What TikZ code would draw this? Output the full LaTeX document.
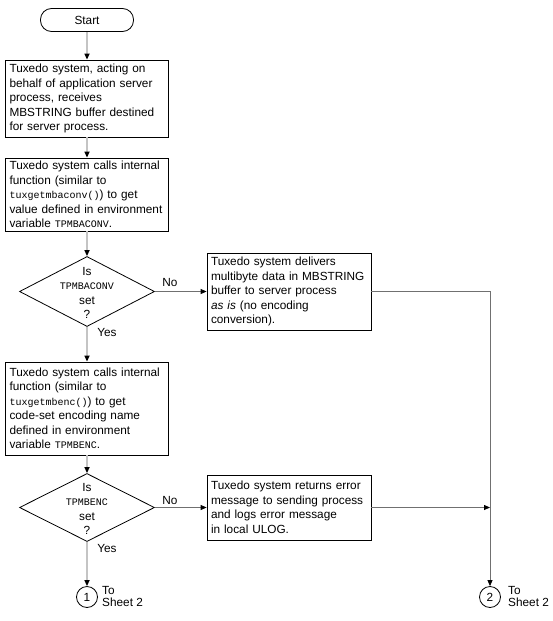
\documentclass[tikz,border=0pt]{standalone}
\usepackage{fontspec}
\setmainfont{Liberation Sans}
\newfontfamily\monof{Liberation Mono}
\usetikzlibrary{arrows.meta,shapes.geometric,calc}
\newcommand{\codetxt}[1]{{\monof\fontsize{10}{12}\selectfont #1}}
\newcommand{\envtxt}[1]{{\monof\fontsize{10}{12}\selectfont #1}}
\definecolor{lgray}{HTML}{C4C4C4}
\definecolor{dgray}{HTML}{707070}
\begin{document}
\begin{tikzpicture}[x=1pt,y=-1pt,font=\fontsize{11.8}{14.5}\selectfont,
  box/.style={draw=black,line width=0.8pt,fill=white,inner xsep=4pt,inner ysep=2pt,align=left},
  term/.style={draw=black,line width=0.8pt,rounded corners=11pt,minimum width=93pt,minimum height=23pt,inner sep=0pt},
  dec/.style={draw=black,line width=0.8pt,diamond,minimum width=135pt,minimum height=70pt,inner sep=0pt},
  conn/.style={draw=black,line width=0.8pt,circle,minimum size=21pt,inner sep=0pt},
  tipb/.tip={Triangle[length=6pt,width=5pt,color=black]},
  mainline/.style={draw=lgray,line width=2pt,-tipb},
  sidearrow/.style={draw=dgray,line width=0.8pt,-tipb},
  lbl/.style={inner sep=0pt}]
\fill[white] (0,0) rectangle (552,621);
\useasboundingbox (0,0) rectangle (552,621);

\node[term] (start) at (87,20) {Start};
\node[box,text width=155pt,minimum height=77pt] (b1) at (87,98.5)
  {Tuxedo system, acting on\\ behalf of application server\\ process, receives\\ MBSTRING buffer destined\\ for server process.};
\node[box,text width=155pt,minimum height=73pt] (b2) at (87,194.5)
  {Tuxedo system calls internal\\ function (similar to\\ \codetxt{tuxgetmbaconv()}) to get\\ value defined in environment\\ variable \envtxt{TPMBACONV}.};
\node[dec,minimum height=70pt] (d1) at (87,291.5) {};
\node[lbl,align=center] (d1t) at (87,293) {Is\\ \envtxt{TPMBACONV}\\ set\\ ?};
\node[box,text width=156pt,minimum height=77pt] (b3) at (289,291.5)
  {Tuxedo system delivers\\ multibyte data in MBSTRING\\ buffer to server process\\ \textit{as is} (no encoding\\ conversion).};
\node[box,text width=155pt,minimum height=93pt] (b4) at (87,408.5)
  {Tuxedo system calls internal\\ function (similar to\\ \codetxt{tuxgetmbenc()}) to get\\ code-set encoding name\\ defined in environment\\ variable \envtxt{TPMBENC}.};
\node[dec,minimum height=68pt] (d2) at (87,507.5) {};
\node[lbl,align=center] (d2t) at (87,509) {Is\\ \envtxt{TPMBENC}\\ set\\ ?};
\node[box,text width=156pt,minimum height=65pt] (b5) at (289,507.5)
  {Tuxedo system returns error\\ message to sending process\\ and logs error message\\ in local ULOG.};
\node[conn] (c1) at (87,597) {1};
\node[conn] (c2) at (490,597) {2};
\node[lbl,align=left,anchor=west,font=\fontsize{11.8}{12}\selectfont] (s1) at (102,596) {To\\ Sheet 2};
\node[lbl,align=left,anchor=west,font=\fontsize{11.8}{12}\selectfont] (s2) at (508,596) {To\\ Sheet 2};

\node[lbl] (no1) at (170,282) {No};
\node[lbl] (yes1) at (107,332) {Yes};
\node[lbl] (no2) at (170,500) {No};
\node[lbl] (yes2) at (107,548) {Yes};

\draw[mainline] (start) -- (b1);
\draw[mainline] (b1) -- (b2);
\draw[mainline] (b2) -- (d1);
\draw[mainline] (d1) -- (b4);
\draw[mainline] (b4) -- (d2);
\draw[mainline] (d2) -- (c1);
\draw[sidearrow] (d1.east) -- (b3.west);
\draw[sidearrow] (d2.east) -- (b5.west);
\draw[sidearrow] (b3.east) -- (b3.east -| c2.north) -- (c2.north);
\draw[sidearrow] (b5.east) -- (b5.east -| c2.north);
\end{tikzpicture}
\end{document}
